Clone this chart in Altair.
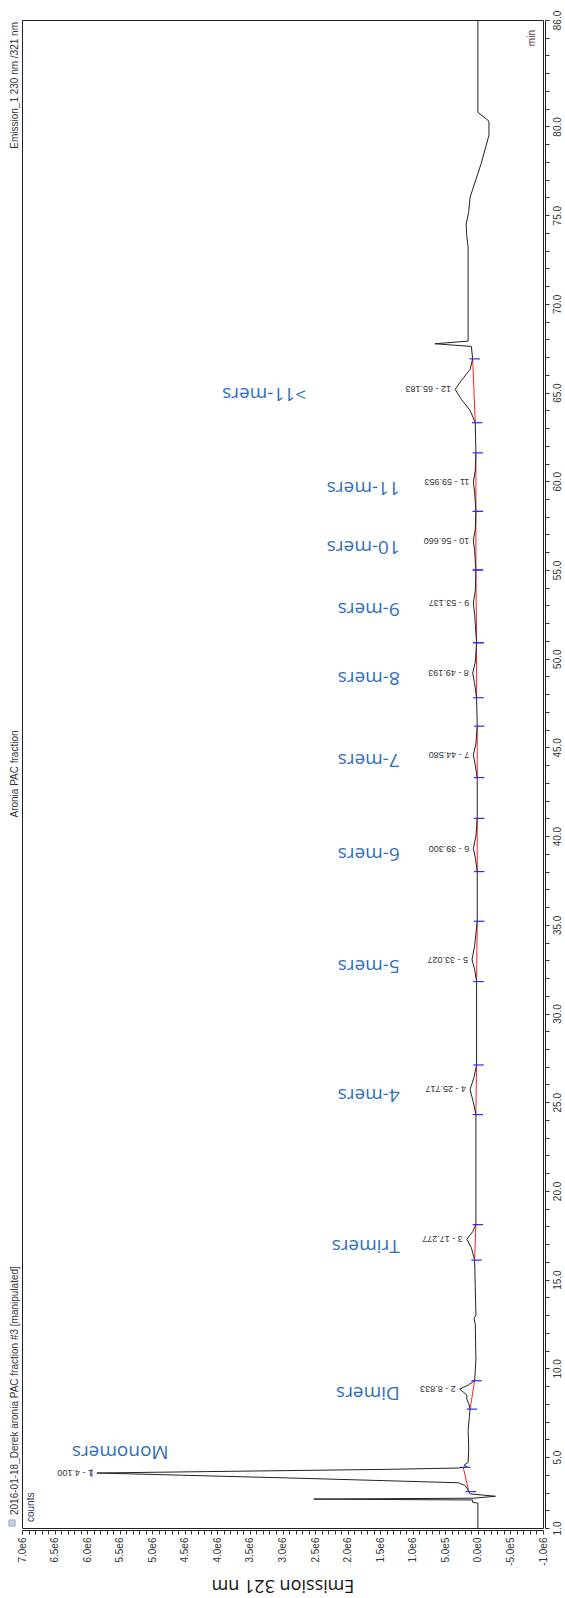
import altair as alt
import numpy as np
import pandas as pd

# ---- chromatogram trace: retention time (min) / response (million counts) ----
base_time = [
    1.0, 2.40, 2.45, 2.58, 2.63, 2.68, 2.79, 2.92, 3.2, 3.4, 3.55, 3.8, 4.0,
    4.2, 4.3, 4.38, 4.45, 4.55, 4.7, 5.5, 6.5, 7.3, 7.7, 8.0, 8.25, 8.5,
    9.05, 9.3, 10.5, 12.5, 12.8, 13.0, 16.1, 16.8,
    17.7, 18.1, 24.3, 25.0,
    26.4, 27.1, 31.8, 32.5,
    33.8, 35.2, 38.0, 38.8,
    40.0, 41.0, 43.3, 44.0,
    45.2, 46.2, 47.8, 48.6,
    49.8, 50.9, 52.5,
    53.8, 55.0, 56.1,
    57.3, 58.3, 59.4,
    60.6, 61.6, 63.3, 64.0, 64.6,
    65.7, 66.3, 66.9, 67.6, 67.75, 67.9, 68.5, 73.2, 73.8, 74.5, 75.2,
    76.0, 77.9, 79.5, 80.3, 80.8, 86.0,
]
base_counts = [
    0.0, 0.0, 0.08, 0.08, 2.52, 0.06, -0.27, 0.12, 0.16, 0.2, 0.3, 2.7, 4.8,
    3.7, 1.5, 0.3, 0.17, 0.21, 0.15, 0.14, 0.15, 0.13, 0.12, 0.14, 0.17, 0.17,
    0.15, 0.05, 0.03, 0.04, 0.06, 0.03, 0.05, 0.10,
    0.08, 0.03, 0.03, 0.07,
    0.06, 0.02, 0.02, 0.05,
    0.05, 0.01, 0.01, 0.04,
    0.03, 0.01, 0.01, 0.04,
    0.03, 0.01, 0.02, 0.05,
    0.04, 0.02, 0.05,
    0.04, 0.03, 0.05,
    0.04, 0.03, 0.05,
    0.04, 0.03, 0.04, 0.12, 0.25,
    0.25, 0.12, 0.08, 0.10, 0.66, 0.15, 0.15, 0.15, 0.17, 0.18, 0.14,
    0.12, -0.05, -0.17, -0.17, 0.0, 0.0,
]

# ---- integrated peaks ----
peak_no = [1, 2, 3, 4, 5, 6, 7, 8, 9, 10, 11, 12]
peak_time = [4.100, 8.833, 17.277, 25.717, 33.027, 39.300, 44.580, 49.193,
             53.137, 56.660, 59.953, 65.183]
peak_height = [5.85, 0.28, 0.17, 0.12, 0.09, 0.07, 0.07, 0.08,
               0.07, 0.07, 0.07, 0.35]
peak_name = ["Monomers", "Dimers", "Trimers", "4-mers", "5-mers", "6-mers",
             "7-mers", "8-mers", "9-mers", "10-mers", "11-mers", ">11-mers"]
win_start = [3.05, 7.7, 16.1, 24.3, 31.8, 38.0, 43.3, 47.8, 50.9, 55.0, 58.3, 63.3]
win_end = [4.42, 9.3, 18.1, 27.1, 35.2, 41.0, 46.2, 50.9, 55.0, 58.3, 61.6, 66.9]

# where each oligomer name sits (time, million counts)
name_time = [5.28, 8.6, 16.9, 25.4, 32.7, 39.0, 44.3, 48.9, 52.8, 56.3, 59.6, 64.9]
name_counts = [4.75, 1.2, 1.2, 1.2, 1.2, 1.2, 1.2, 1.2, 1.2, 1.2, 1.2, 2.64]

SCALE = 1e6

trace = pd.DataFrame({
    "time": base_time + peak_time,
    "counts": [c * SCALE for c in base_counts + peak_height],
}).sort_values("time").reset_index(drop=True)

peaks = pd.DataFrame({
    "no": peak_no,
    "time": peak_time,
    "counts": [h * SCALE for h in peak_height],
    "name": peak_name,
    "name_time": name_time,
    "name_counts": [c * SCALE for c in name_counts],
})
peaks["label"] = [f"{n} - {t:.3f}" for n, t in zip(peak_no, peak_time)]

# baseline points on the trace at the window edges
tr_t = trace["time"].to_numpy()
tr_c = trace["counts"].to_numpy()
windows = pd.DataFrame({
    "t0": win_start,
    "t1": win_end,
    "c0": np.interp(win_start, tr_t, tr_c),
    "c1": np.interp(win_end, tr_t, tr_c),
})
edges = pd.DataFrame({
    "time": win_start + win_end,
    "counts": list(windows["c0"]) + list(windows["c1"]),
})
edges["left"] = edges["counts"] + 0.05 * SCALE
edges["right"] = edges["counts"] - 0.11 * SCALE

# ---- scales and axes ----
W, H = 521, 1508
xs = alt.Scale(domain=[-1e6, 7e6], reverse=True, nice=False, zero=False)
ys = alt.Scale(domain=[1, 86], nice=False, zero=False)

x_ticks = [int(v) for v in np.arange(-1_000_000, 7_000_001, 100_000)]
x_axis = alt.Axis(
    values=x_ticks,
    labelExpr=("datum.value % 500000 == 0 ? "
               "replace(replace(format(datum.value, '.1e'), '+', ''), '\u2212', '-') : ''"),
    labelAngle=270, labelAlign="right", labelBaseline="middle",
    labelFont="Liberation Sans", labelFontSize=10, labelColor="#333",
    labelOverlap=False, labelFlush=False, labelPadding=3,
    tickSize=4, tickColor="#333", domainColor="#222", offset=2, grid=False,
    title="Emission 321 nm", titleAngle=180, titleBaseline="middle",
    titleY=54, titleFont="Open Sans", titleFontSize=18,
    titleFontWeight="normal", titleColor="#111",
)
y_ticks = list(range(1, 87))
y_axis = alt.Axis(
    orient="right", values=y_ticks,
    labelExpr=("(datum.value == 1 || datum.value == 86 || "
               "(datum.value % 5 == 0 && datum.value != 85)) ? "
               "format(datum.value, '.1f') : ''"),
    labelAngle=270, labelAlign="center", labelBaseline="top",
    labelFont="Liberation Sans", labelFontSize=10, labelColor="#333",
    labelOverlap=False, labelFlush=False, labelPadding=3,
    tickSize=4, tickColor="#333", domainColor="#222", offset=2, grid=False,
    title=None,
)


def X(field):
    return alt.X(field, type="quantitative", scale=xs, axis=x_axis)


def Y(field):
    return alt.Y(field, type="quantitative", scale=ys, axis=y_axis)


line = alt.Chart(trace).mark_line(color="#222", strokeWidth=1).encode(
    x=X("counts"), y=Y("time"), order=alt.Order("time:Q"))

baselines = alt.Chart(windows).mark_rule(color="#ff2020", strokeWidth=1).encode(
    x=X("c0"), x2="c1", y=Y("t0"), y2="t1")

edge_ticks = alt.Chart(edges).mark_rule(color="#2a2aff", strokeWidth=1.2).encode(
    x=X("left"), x2="right", y=Y("time"))

apex_mark = alt.Chart(peaks[peaks["no"] == 1]).mark_tick(
    orient="vertical", size=8, thickness=1.2, color="#2a2aff", xOffset=-5
).encode(x=X("counts"), y=Y("time"))

peak_labels = alt.Chart(peaks).mark_text(
    angle=180, align="left", baseline="middle", dx=4,
    font="Liberation Sans", fontSize=9, color="#333"
).encode(x=X("counts"), y=Y("time"), text="label")

names = alt.Chart(peaks).mark_text(
    angle=180, align="left", baseline="middle",
    font="Open Sans", fontSize=19, color="#2e6fbd"
).encode(x=X("name_counts"), y=Y("name_time"), text="name")

# page texts around the frame
side = pd.DataFrame({"t": ["Emission_1 230 nm /321 nm"]})
side_top = alt.Chart(side).mark_text(
    angle=270, align="right", baseline="middle",
    font="Liberation Sans", fontSize=10, color="#333"
).encode(x=alt.value(-7), y=alt.value(2), text="t")

mid = pd.DataFrame({"t": ["Aronia PAC fraction"]})
side_mid = alt.Chart(mid).mark_text(
    angle=270, align="center", baseline="middle",
    font="Liberation Sans", fontSize=10, color="#333"
).encode(x=alt.value(-7), y=alt.value(H / 2), text="t")

low = pd.DataFrame({"t": ["2016-01-18_Derek aronia PAC fraction #3 [manipulated]"]})
side_low = alt.Chart(low).mark_text(
    angle=270, align="left", baseline="middle",
    font="Liberation Sans", fontSize=10, color="#333"
).encode(x=alt.value(-7), y=alt.value(H - 13), text="t")

icon = alt.Chart(pd.DataFrame({"k": [0]})).mark_square(
    size=40, color="#9fc3d8", stroke="#557", strokeWidth=0.6
).encode(x=alt.value(-10), y=alt.value(H - 5))

units = pd.DataFrame({"t": ["counts"]})
counts_txt = alt.Chart(units).mark_text(
    angle=270, align="left", baseline="middle",
    font="Liberation Sans", fontSize=10, color="#33335a"
).encode(x=alt.value(9), y=alt.value(H - 6), text="t")

mins = pd.DataFrame({"t": ["min"]})
min_txt = alt.Chart(mins).mark_text(
    angle=270, align="right", baseline="middle",
    font="Liberation Sans", fontSize=10, color="#4a3060"
).encode(x=alt.value(W - 11), y=alt.value(10), text="t")

chart = alt.layer(
    baselines, line, edge_ticks, apex_mark, peak_labels, names,
    side_top, side_mid, side_low, icon, counts_txt, min_txt,
).properties(
    width=W, height=H,
    autosize=alt.AutoSizeParams(type="none"),
    padding={"left": 22, "top": 20, "right": 22, "bottom": 70},
    background="white",
).configure_view(stroke="#222", strokeWidth=1)

chart.save("out.html", embed_options={"renderer": "svg", "actions": False})
